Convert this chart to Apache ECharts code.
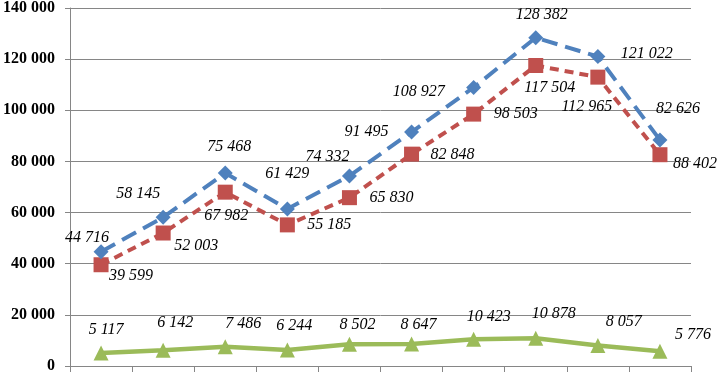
<!DOCTYPE html>
<html>
<head>
<meta charset="utf-8">
<script src="https://cdn.jsdelivr.net/npm/echarts@6/dist/echarts.min.js"></script>
<style>
  html, body { margin: 0; padding: 0; background: #fff; }
  #chart { width: 718px; height: 374px; }
</style>
</head>
<body>
<div id="chart"></div>
<script>
// categories (no labels shown on the x axis)
var categories = ["1", "2", "3", "4", "5", "6", "7", "8", "9", "10"];

// series values
var blueValues = [44716, 58145, 75468, 61429, 74332, 91495, 108927, 128382, 121022, 88402];
var redValues = [39599, 52003, 67982, 55185, 65830, 82848, 98503, 117504, 112965, 82626];
var greenValues = [5117, 6142, 7486, 6244, 8502, 8647, 10423, 10878, 8057, 5776];

// y axis ticks
var yMin = 0;
var yMax = 140000;
var yStep = 20000;

// label offsets (px, from each marker)
var blueOffsets = [[-14, -14], [-25, -24], [4, -26], [0, -35], [-22, -19], [-45, 0], [-55, 4], [6, -23], [49, -3], [35, 24]];
var redOffsets = [[30, 11], [33, 13], [1, 24], [42, 0], [42, 0], [41, 1], [42, 0], [14, 22], [-11, 30], [18, -46]];
var greenOffsets = [[5, -23], [12, -27], [18, -23], [7, -24], [8, -19], [7, -19], [15, -23], [18, -24], [26, -24], [33, -16]];

function fmt(v) {
  return String(v).replace(/\B(?=(\d{3})+(?!\d))/g, " ");
}

function withLabels(values, offsets) {
  return values.map(function (v, i) {
    return {
      value: v,
      label: { offset: offsets[i] }
    };
  });
}

var labelStyle = {
  show: true,
  position: "inside",
  align: "center",
  verticalAlign: "middle",
  fontFamily: "Liberation Serif",
  fontStyle: "italic",
  fontSize: 16,
  color: "#000",
  formatter: function (p) { return fmt(p.value); }
};

var chart = echarts.init(document.getElementById("chart"));
chart.setOption({
  animation: false,
  grid: { left: 68, right: 27, top: 6, bottom: 6, containLabel: false },
  xAxis: {
    type: "category",
    data: categories,
    boundaryGap: true,
    axisLine: { lineStyle: { color: "#868686", width: 1 } },
    axisTick: { show: true, length: 6, lineStyle: { color: "#868686" } },
    axisLabel: { show: false }
  },
  yAxis: {
    type: "value",
    min: yMin,
    max: yMax,
    interval: yStep,
    axisLine: { show: true, lineStyle: { color: "#868686", width: 1 } },
    axisTick: { show: true, length: 5, lineStyle: { color: "#868686" } },
    splitLine: { lineStyle: { color: "#868686", width: 1 } },
    axisLabel: {
      margin: 15,
      fontFamily: "Liberation Serif",
      fontWeight: "bold",
      fontSize: 16,
      color: "#000",
      formatter: function (v) { return fmt(v); }
    }
  },
  series: [
    {
      type: "line",
      data: withLabels(blueValues, blueOffsets),
      symbol: "diamond",
      symbolSize: [15, 15],
      itemStyle: { color: "#4F81BD" },
      lineStyle: { color: "#4F81BD", width: 4, type: [16, 8] },
      label: labelStyle,
      z: 3
    },
    {
      type: "line",
      data: withLabels(redValues, redOffsets),
      symbol: "rect",
      symbolSize: 15,
      itemStyle: { color: "#C0504D" },
      lineStyle: { color: "#C0504D", width: 4, type: [9, 6] },
      label: labelStyle,
      z: 2
    },
    {
      type: "line",
      data: withLabels(greenValues, greenOffsets),
      symbol: "triangle",
      symbolSize: 15,
      itemStyle: { color: "#9BBB59" },
      lineStyle: { color: "#9BBB59", width: 4.5 },
      label: labelStyle,
      z: 2
    }
  ]
});
</script>
</body>
</html>
